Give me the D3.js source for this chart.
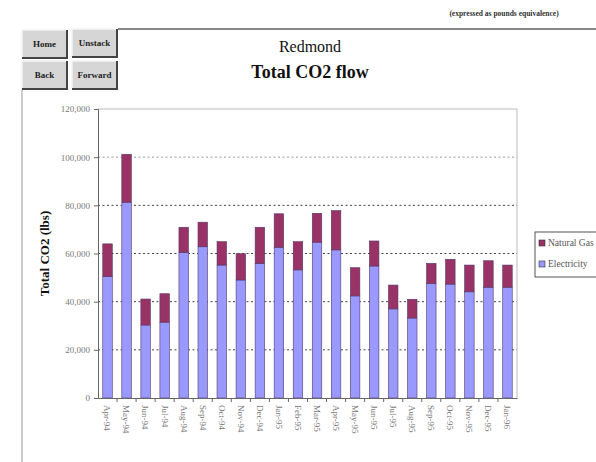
<!DOCTYPE html>
<html>
<head>
<meta charset="utf-8">
<script src="https://cdn.jsdelivr.net/npm/d3@7"></script>
<style>
  body { margin: 0; background: #fff; }
  svg { display: block; font-family: "Liberation Serif", "DejaVu Serif", serif; }
</style>
</head>
<body>
<svg id="chart"></svg>
<script>
// months on the x axis
var months = ["Apr-94","May-94","Jun-94","Jul-94","Aug-94","Sep-94","Oct-94","Nov-94","Dec-94",
  "Jan-95","Feb-95","Mar-95","Apr-95","May-95","Jun-95","Jul-95","Aug-95","Sep-95","Oct-95",
  "Nov-95","Dec-95","Jan-96"];
// lbs of CO2 from electricity (bottom of stack)
var electricity = [50400, 81300, 30300, 31500, 60400, 62800, 55200, 49000, 55900,
  62600, 53200, 64700, 61500, 42400, 54800, 37000, 33200, 47600, 47300, 44100, 46000, 46000];
// lbs of CO2 from natural gas (top of stack)
var naturalGas = [13600, 19900, 10800, 11800, 10500, 10200, 9700, 10900, 15000,
  13900, 11700, 12000, 16300, 11700, 10400, 9900, 7800, 8300, 10300, 11100, 11000, 9200];
var yTicks = [0, 20000, 40000, 60000, 80000, 100000, 120000];
var seriesNames = ["Electricity", "Natural Gas"];
var seriesColors = ["#9999ff", "#993366"];

var svgWidth = 596, svgHeight = 462;
var svg = d3.select("#chart").attr("width", svgWidth).attr("height", svgHeight);

// page chrome: note, rule, buttons, frame
svg.append("text")
  .attr("x", 504).attr("y", 16)
  .attr("text-anchor", "middle")
  .attr("font-size", 7.5).attr("font-weight", "bold").attr("fill", "#333")
  .text("(expressed as pounds equivalence)");

svg.append("line")
  .attr("x1", 118).attr("x2", 596).attr("y1", 29).attr("y2", 29)
  .attr("stroke", "#888").attr("stroke-width", 2);
svg.append("line")
  .attr("x1", 22).attr("x2", 22).attr("y1", 90).attr("y2", 462)
  .attr("stroke", "#999").attr("stroke-width", 1);

var buttons = [
  { label: "Home", x: 22, y: 30 },
  { label: "Unstack", x: 72, y: 29 },
  { label: "Back", x: 22, y: 61 },
  { label: "Forward", x: 72, y: 61 }
];
var btn = svg.append("g").selectAll("g").data(buttons).enter().append("g")
  .attr("transform", function(d) { return "translate(" + d.x + "," + d.y + ")"; });
btn.append("rect").attr("width", 45).attr("height", 28).attr("fill", "#d6d6d6");
btn.append("path").attr("d", "M0,28V0H45").attr("fill", "none").attr("stroke", "#f4f4f4").attr("stroke-width", 1.5);
btn.append("path").attr("d", "M0,28H45V0").attr("fill", "none").attr("stroke", "#444").attr("stroke-width", 2);
btn.append("text")
  .attr("x", 22.5).attr("y", 17)
  .attr("text-anchor", "middle")
  .attr("font-size", 9).attr("font-weight", "bold").attr("fill", "#222")
  .text(function(d) { return d.label; });

// titles
svg.append("text")
  .attr("x", 310).attr("y", 52).attr("text-anchor", "middle")
  .attr("font-size", 16).attr("fill", "#111")
  .text("Redmond");
svg.append("text")
  .attr("x", 310).attr("y", 78).attr("text-anchor", "middle")
  .attr("font-size", 18).attr("font-weight", "bold").attr("fill", "#111")
  .text("Total CO2 flow");

// plot area
var margin = { top: 109, right: 79, bottom: 64, left: 98 };
var width = svgWidth - margin.left - margin.right;
var height = svgHeight - margin.top - margin.bottom;
var g = svg.append("g").attr("transform", "translate(" + margin.left + "," + margin.top + ")");

var x = d3.scaleBand().domain(months).range([0, width]).paddingInner(0.5).paddingOuter(0.25);
var y = d3.scaleLinear().domain([0, 120000]).range([height, 0]);

// gridlines
g.append("g").selectAll("line").data(yTicks.slice(1)).enter().append("line")
  .attr("x1", 0).attr("x2", width)
  .attr("y1", function(d) { return y(d); }).attr("y2", function(d) { return y(d); })
  .attr("stroke", function(d) { return d === 120000 ? "#bbb" : (d === 100000 ? "#999" : "#444"); })
  .attr("stroke-dasharray", function(d) { return d === 120000 ? null : "2,2.5"; });

// right frame
g.append("line").attr("x1", width).attr("x2", width).attr("y1", 0).attr("y2", height)
  .attr("stroke", "#bbb");

// stacked bars
var rows = months.map(function(m, i) {
  return { month: m, Electricity: electricity[i], "Natural Gas": naturalGas[i] };
});
var stack = d3.stack().keys(seriesNames)(rows);
g.append("g").selectAll("g").data(stack).enter().append("g")
  .attr("fill", function(d, i) { return seriesColors[i]; })
  .selectAll("rect").data(function(d) { return d; }).enter().append("rect")
    .attr("x", function(d) { return x(d.data.month); })
    .attr("width", x.bandwidth())
    .attr("y", function(d) { return y(d[1]); })
    .attr("height", function(d) { return y(d[0]) - y(d[1]); })
    .attr("stroke", "#55386a").attr("stroke-width", 0.6);

// y axis
var yAxis = g.append("g")
  .call(d3.axisLeft(y).tickValues(yTicks).tickSize(4).tickFormat(d3.format(",")));
yAxis.select(".domain").attr("stroke", "#666");
yAxis.selectAll(".tick line").attr("stroke", "#666");
yAxis.selectAll("text").attr("font-size", 9).attr("fill", "#777")
  .attr("font-family", "Liberation Serif, serif").attr("x", -8);

// x axis with ticks between categories
var xAxis = g.append("g").attr("transform", "translate(0," + height + ")")
  .call(d3.axisBottom(x).tickSize(0).tickSizeOuter(0));
xAxis.select(".domain").attr("stroke", "#666");
xAxis.selectAll("text")
  .attr("font-size", 9).attr("fill", "#777").attr("font-family", "Liberation Serif, serif")
  .attr("transform", "rotate(90)")
  .attr("text-anchor", "start")
  .attr("x", 7).attr("y", 0).attr("dy", "0.35em");
g.append("g").selectAll("line").data(months.slice(1)).enter().append("line")
  .attr("x1", function(d) { return x(d) - x.step() * x.paddingInner() / 2; })
  .attr("x2", function(d) { return x(d) - x.step() * x.paddingInner() / 2; })
  .attr("y1", height).attr("y2", height + 4)
  .attr("stroke", "#666");

// y label
svg.append("text")
  .attr("transform", "translate(49," + (margin.top + height / 2) + ") rotate(-90)")
  .attr("text-anchor", "middle")
  .attr("font-size", 13).attr("font-weight", "bold").attr("fill", "#111")
  .text("Total CO2 (lbs)");

// legend
var legend = svg.append("g").attr("transform", "translate(535,232)");
legend.append("rect").attr("width", 80).attr("height", 45)
  .attr("fill", "#fff").attr("stroke", "#555");
var legendItems = [seriesNames[1], seriesNames[0]];
var li = legend.selectAll("g").data(legendItems).enter().append("g")
  .attr("transform", function(d, i) { return "translate(4," + (11 + i * 21) + ")"; });
li.append("rect").attr("width", 6).attr("height", 6).attr("y", -3)
  .attr("fill", function(d) { return seriesColors[seriesNames.indexOf(d)]; })
  .attr("stroke", "#333").attr("stroke-width", 0.6);
li.append("text").attr("x", 9).attr("dy", "0.35em")
  .attr("font-size", 9.5).attr("fill", "#555")
  .text(function(d) { return d; });
</script>
</body>
</html>
